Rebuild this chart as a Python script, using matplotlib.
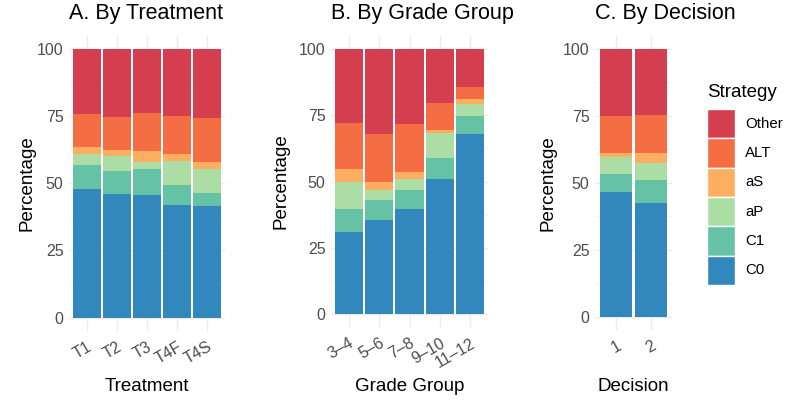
import matplotlib
matplotlib.use("Agg")
import matplotlib.pyplot as plt
from matplotlib.patches import Rectangle
import numpy as np

plt.rcParams["font.family"] = ["Liberation Sans", "DejaVu Sans"]

strategies = ["C0", "C1", "aP", "aS", "ALT", "Other"]
colors = {
    "Other": "#D53E4F",
    "ALT": "#F46D43",
    "aS": "#FDAE61",
    "aP": "#ABDDA4",
    "C1": "#66C2A5",
    "C0": "#3288BD",
}

# percentages per strategy, in the order of `strategies`
treatments = ["T1", "T2", "T3", "T4F", "T4S"]
treatment_pct = [
    [47.8, 9.0, 4.1, 2.6, 12.3, 24.2],
    [46.0, 8.5, 5.7, 2.2, 12.3, 25.3],
    [45.6, 9.7, 2.7, 4.0, 14.1, 23.9],
    [41.9, 7.4, 9.0, 2.6, 14.1, 25.0],
    [41.5, 4.8, 9.0, 2.6, 16.4, 25.7],
]

grades = ["3–4", "5–6", "7–8", "9–10", "11–12"]
grade_pct = [
    [30.9, 8.7, 10.2, 4.9, 17.4, 27.9],
    [35.5, 7.5, 3.8, 3.0, 18.1, 32.1],
    [39.6, 7.2, 4.1, 2.7, 18.1, 28.3],
    [50.9, 8.0, 9.4, 1.1, 10.2, 20.4],
    [67.9, 6.8, 4.5, 1.9, 4.6, 14.3],
]

decisions = ["1", "2"]
decision_pct = [
    [46.6, 6.7, 6.4, 1.4, 13.9, 25.0],
    [42.5, 8.6, 6.3, 3.7, 14.2, 24.7],
]

W, H = 785, 400
fig = plt.figure(figsize=(W / 100, H / 100), dpi=100)


def px_axes(x0, x1, top, bottom):
    return fig.add_axes([x0 / W, 1 - bottom / H, (x1 - x0) / W, (bottom - top) / H])


def stacked(ax, box, cats, pct, title, xlabel, ylab_x):
    x0, x1, top, bottom = box
    vals = np.array(pct)
    x = np.arange(1, len(cats) + 1)
    base = np.zeros(len(cats))
    for j, s in enumerate(strategies):
        ax.bar(x, vals[:, j], bottom=base, width=0.93, color=colors[s],
               linewidth=0, zorder=2)
        base += vals[:, j]
    ax.set_xlim(0.4, len(cats) + 0.6)
    ax.set_ylim(-5, 105)
    ax.set_xticks(x)
    ax.set_xticklabels(cats, rotation=30, ha="right", rotation_mode="anchor")
    ax.set_yticks([0, 25, 50, 75, 100])
    ax.set_yticks([12.5, 37.5, 62.5, 87.5], minor=True)
    ax.grid(True, which="major", color="#EBEBEB", linewidth=1.0, zorder=0)
    ax.grid(True, which="minor", axis="y", color="#F3F3F3", linewidth=0.6, zorder=0)
    for sp in ax.spines.values():
        sp.set_visible(False)
    ax.tick_params(which="both", length=0, labelsize=11.5, labelcolor="#4D4D4D")
    ax.tick_params(axis="x", pad=6)
    ax.tick_params(axis="y", pad=4)
    ax.set_title(title, loc="left", fontsize=15.5, pad=12)
    ax.set_xlabel(xlabel, fontsize=13.5, va="baseline")
    ax.set_ylabel("Percentage", fontsize=13.5, va="center")
    # place axis titles in figure pixels
    ax.xaxis.set_label_coords(0.5, (bottom - 391) / (bottom - top))
    ax.yaxis.set_label_coords((ylab_x - x0) / (x1 - x0), 0.5)
    ax.set_axisbelow(True)


box_a = (69, 225, 35.6, 331)
ax_a = px_axes(*box_a)
stacked(ax_a, box_a, treatments, treatment_pct, "A. By Treatment", "Treatment", 27)

box_b = (331, 488, 35.75, 327.25)
ax_b = px_axes(*box_b)
stacked(ax_b, box_b, grades, grade_pct, "B. By Grade Group", "Grade Group", 281)

box_c = (595, 672, 35.6, 330.1)
ax_c = px_axes(*box_c)
stacked(ax_c, box_c, decisions, decision_pct, "C. By Decision", "Decision", 548)

# legend drawn in its own pixel-space axes
leg = px_axes(690, 785, 60, 300)
leg.set_xlim(690, 785)
leg.set_ylim(300, 60)
leg.axis("off")
leg.text(707, 97, "Strategy", fontsize=13.5, va="baseline", ha="left")
key_h = 29.33
for i, s in enumerate(reversed(strategies)):
    y = 109 + i * key_h
    leg.add_patch(Rectangle((707, y), 28, key_h, facecolor=colors[s],
                            edgecolor="white", linewidth=1))
    leg.text(745, y + key_h / 2, s, fontsize=10.8, va="center", ha="left")

fig.savefig("out.png", dpi=100)
